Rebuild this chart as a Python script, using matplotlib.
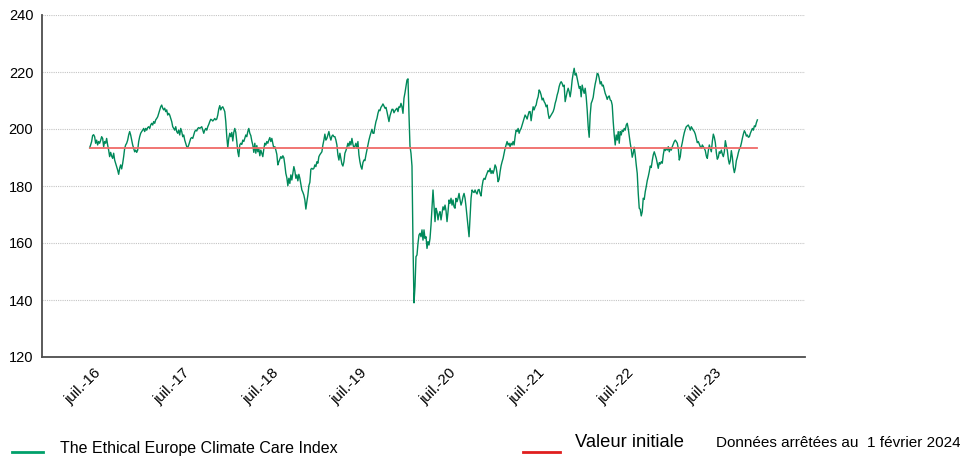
import numpy as np
import pandas as pd
import matplotlib
matplotlib.use("Agg")
import matplotlib.pyplot as plt
from matplotlib.lines import Line2D

plt.rcParams['font.family'] = ['Liberation Sans', 'DejaVu Sans']

# ---- data (index level, regular spacing in time) ----
seg_2016_2017 = [
    193.4, 194.4, 195.6, 197.7, 198.0, 197.3, 195.0, 196.1, 194.4, 195.6, 195.0,
    196.0, 197.3, 196.7, 193.8, 195.6, 195.0, 196.7, 194.4, 192.6, 190.3, 191.8,
    190.5, 189.7, 191.5, 189.1, 187.9, 186.8, 185.6, 184.1, 186.2, 187.4, 186.0,
    187.9, 190.3, 193.2, 194.4, 195.0, 196.1, 197.9, 199.1, 197.9, 196.1,
    194.4, 193.2, 192.0, 192.6, 191.8, 192.6, 195.6, 197.3, 198.5, 199.1,
    199.6, 200.2, 199.1, 200.2, 199.6, 200.5, 200.8, 200.2, 201.4, 202.0,
    201.4, 202.6, 202.0, 203.2, 203.7, 204.3, 205.5, 206.7, 207.8, 208.4,
    207.3, 206.7, 207.3, 206.1, 206.7, 204.9, 205.5, 204.9, 203.7, 202.6,
    200.8, 200.2, 199.6, 200.8, 199.1, 198.5, 199.6, 197.9, 200.2, 199.1,
    197.3, 197.9, 196.1, 195.0, 193.8, 193.5, 194.4, 195.6, 196.7, 197.0,
    196.7, 197.9, 199.1, 199.6, 199.3, 200.2, 200.5,
]
seg_2017_2018 = [
    200.2, 200.5, 200.8, 199.6, 198.5, 199.6, 200.2, 199.6, 200.8, 201.6,
    202.6, 203.4, 203.2, 202.8, 203.2, 203.7, 203.2, 203.5, 204.9, 207.0,
    208.2, 206.7, 207.5, 207.8, 207.0, 206.1, 202.6, 197.3, 193.5, 196.7,
    198.5, 197.3, 198.8, 195.8, 198.8, 200.2, 198.8, 195.6, 192.0, 190.3,
    194.4, 195.0, 194.6, 196.1, 195.6, 196.7, 197.9, 197.3, 199.1, 200.2,
    198.5, 197.7, 195.8, 194.4, 191.8, 195.0, 191.5, 194.2, 192.0, 193.2,
    190.6, 192.6, 191.5, 190.3, 193.0, 195.0, 194.4, 195.6, 195.0, 196.1,
    197.0, 195.6, 196.7, 195.0, 193.2, 193.8, 192.6, 191.1, 187.4, 188.5,
    189.4, 190.3, 189.7, 190.6, 189.9, 187.4, 184.4, 182.9, 180.1, 182.7,
    180.9, 183.9, 182.1, 184.4, 186.8, 185.3, 182.7, 183.9, 181.8, 184.1,
    182.7, 180.6, 178.6, 177.8, 176.8, 175.1, 171.9, 174.5, 176.8, 180.1,
    181.3,
]
seg_2018_2020 = [
    185.9, 186.2, 185.9, 186.2, 187.4, 186.8, 188.5, 188.0, 190.3, 191.0,
    191.5, 192.0, 194.4, 196.1, 198.2, 196.1, 196.7, 197.9, 199.1, 197.3,
    196.1, 197.5, 197.9, 197.3, 197.3, 196.1, 194.4, 190.9, 189.1, 191.5,
    189.7, 187.7, 187.0, 188.5, 191.5, 192.4, 193.6, 195.0, 194.0, 195.6,
    194.4, 196.7, 194.7, 193.2, 194.0, 195.0, 193.2, 195.6, 190.9, 188.5,
    186.8, 185.9, 188.2, 189.1, 188.9, 190.9, 192.6, 194.4, 196.1, 197.5,
    198.7, 199.9, 198.5, 198.5, 200.8, 202.6, 203.7, 205.5, 206.7, 206.4,
    207.6, 208.1, 208.8, 208.1, 207.3, 207.6, 206.1, 204.3, 202.6, 204.6,
    205.7, 206.9, 206.9, 205.7, 206.4, 206.9, 207.3, 206.1, 207.8, 207.6,
    209.0, 207.8, 205.5, 210.8, 212.7, 214.9, 217.2,
    217.6, 205.0, 194.0, 191.5, 187.0, 160.0, 139.0,
]
seg_2020_2021 = [
    144.7, 155.2, 155.8, 159.9, 162.8, 163.4, 162.2, 164.6, 161.0, 164.6,
    161.6, 162.2, 158.1, 160.5, 159.3, 161.6, 166.3, 172.2, 178.6, 173.3,
    167.5, 172.2, 171.0, 168.1, 170.2, 171.0, 168.1, 170.4, 172.7, 171.6,
    173.3, 171.3, 167.5, 171.0, 175.1, 173.9, 175.7, 173.3, 175.1, 172.7,
    172.2, 175.7, 174.5, 175.7, 177.4, 175.1, 173.3, 174.5, 176.3, 177.4,
    175.7, 172.7, 169.2, 165.5, 162.2, 169.2, 175.7, 178.6, 178.0, 177.7,
    178.6, 177.7, 177.2, 178.6, 178.8, 177.4, 176.5, 179.8, 181.9, 182.7,
    182.3, 183.5, 184.4, 185.4, 185.0, 186.2, 184.4, 185.4, 184.4, 185.6,
    187.4, 186.6, 184.4, 181.5, 182.3,
    185.0, 187.1, 188.5, 189.7, 191.5, 193.2, 194.4, 195.6, 194.4, 195.0,
    193.8, 195.0, 194.4, 195.6, 194.4, 197.3, 199.6, 199.1, 200.2, 198.5,
    199.6, 200.2, 201.4, 202.6, 203.7, 204.9, 204.3, 203.5, 204.9, 206.1,
]
seg_2021_2022 = [
    206.1, 202.9, 205.5, 207.8, 206.7, 207.8, 208.4, 210.2, 211.3, 213.7,
    213.1, 211.9, 210.2, 210.8, 209.6, 209.0, 207.8, 208.4, 205.5, 203.7,
    204.3, 204.9, 205.5, 206.1, 207.2, 209.0, 210.2, 211.9, 213.1, 214.9,
    216.0, 216.6, 216.0, 214.9, 215.4, 209.6, 211.3, 213.1, 214.3, 213.1,
    211.3, 213.7, 217.2, 219.5, 221.3, 218.9, 219.5, 217.8, 216.0, 214.3,
    214.9, 211.3, 215.4, 213.7, 212.5, 214.3, 211.3, 206.7, 200.8, 197.1,
    204.9, 209.0, 209.9, 211.1, 213.7, 215.8, 217.4, 219.5, 219.3, 217.8,
    215.8, 216.6, 215.1, 215.4, 213.9, 212.5, 211.6, 210.4, 211.3, 211.6,
    210.2, 209.9, 208.4, 202.6, 197.9, 194.4, 197.9, 196.1, 199.1, 195.0,
    199.1, 197.9, 199.6, 199.1, 200.2, 199.6, 201.4, 202.0, 200.2, 197.5,
    195.0, 192.9, 190.1, 191.5, 193.6, 190.9, 187.4, 184.4, 177.4, 172.2,
]
seg_2022_2024 = [
    171.8, 169.5, 171.0, 175.7, 175.3, 178.0, 179.8, 181.9, 183.3, 185.0,
    187.0, 186.5, 188.9, 190.9, 192.0, 190.9, 189.7, 188.0, 186.2, 188.2,
    187.7, 188.5, 188.0, 190.9, 192.9, 192.4, 193.2, 192.6, 193.8, 192.0,
    193.2, 192.6, 193.8, 194.7, 195.6, 196.1, 195.6, 195.0, 193.2, 189.1,
    190.3, 193.6, 195.2, 197.1, 198.7, 199.9, 200.8, 201.1, 201.4, 200.6,
    199.6, 200.8, 200.2, 199.6, 199.1, 198.2, 196.7, 195.2, 195.6, 194.7,
    193.8, 193.2, 194.4, 193.8, 193.2, 192.4, 190.5, 189.7, 192.4, 194.4,
    193.2, 192.0, 195.6, 198.2, 197.1, 195.2, 191.7, 189.4, 190.1, 192.0,
    191.5, 192.6, 191.2, 190.3, 192.0, 195.9, 194.0, 192.4, 189.4, 187.7,
    188.9, 192.4, 190.1, 186.6, 184.7, 186.2, 188.9, 190.1, 191.7, 192.9,
    193.6, 195.0, 196.7, 198.2, 199.4, 198.7, 197.5, 197.9, 197.1, 197.3,
    198.5, 199.4, 200.2, 199.6, 201.1, 200.8, 202.2, 203.2,
]
index_values = (seg_2016_2017 + seg_2017_2018 + seg_2018_2020 +
                seg_2020_2021 + seg_2021_2022 + seg_2022_2024)

start_date = "2016-06-13"
end_date = "2023-12-22"
initial_value = 193.4

series_label = "The Ethical Europe Climate Care Index"
initial_label = "Valeur initiale"
note_text = "Données arrêtées au  1 février 2024"

tick_dates = ["2016-07-01", "2017-07-01", "2018-07-01", "2019-07-01",
              "2020-07-01", "2021-07-01", "2022-07-01", "2023-07-01"]
tick_labels = ["juil.-16", "juil.-17", "juil.-18", "juil.-19",
               "juil.-20", "juil.-21", "juil.-22", "juil.-23"]
y_ticks = [120, 140, 160, 180, 200, 220, 240]

# ---- figure ----
W, H = 960, 459
fig = plt.figure(figsize=(W / 100, H / 100), dpi=100)
ax = fig.add_axes([42 / W, 1 - 357 / H, (805 - 42) / W, (357 - 15) / H])

dates = pd.date_range(start_date, end_date, periods=len(index_values))
green = "#00895A"
ax.plot(dates, index_values, color=green, lw=1.0, zorder=3)
ax.plot([dates[0], dates[-1]], [initial_value, initial_value],
        color="#F06A68", lw=1.3, zorder=4)

ax.set_ylim(120, 240)
ax.set_yticks(y_ticks)
ax.set_xlim(dates[0] - pd.Timedelta(days=196), dates[-1] + pd.Timedelta(days=196))
ax.set_xticks(pd.to_datetime(tick_dates))
ax.set_xticklabels(tick_labels, rotation=45, ha="right", va="top",
                   rotation_mode="anchor")

ax.tick_params(axis="both", length=0, colors="#000000")
ax.tick_params(axis="y", labelsize=10.5, pad=6.3)
ax.tick_params(axis="x", labelsize=10.8, pad=6.5)

ax.grid(axis="y", color="#C4C4C4", linestyle=(0, (1, 1)), lw=0.8)
ax.set_axisbelow(True)
for s in ("top", "right"):
    ax.spines[s].set_visible(False)
for s in ("left", "bottom"):
    ax.spines[s].set_color("#4D4D4D")
    ax.spines[s].set_linewidth(1.3)

# ---- bottom legend / note ----
def fy(ypix):
    return 1 - ypix / H

fig.add_artist(Line2D([12 / W, 43 / W], [fy(451.7), fy(451.7)],
                      color="#00A06A", lw=2.0))
fig.text(60 / W, fy(453.3), series_label, fontsize=11.5, va="baseline", ha="left")
fig.add_artist(Line2D([523 / W, 560 / W], [fy(451.7), fy(451.7)],
                      color="#E01E1E", lw=2.0))
fig.text(575 / W, fy(446.7), initial_label, fontsize=13.2, va="baseline", ha="left")
fig.text(716 / W, fy(447.3), note_text, fontsize=11, va="baseline", ha="left")

fig.savefig("out.png", dpi=100)
